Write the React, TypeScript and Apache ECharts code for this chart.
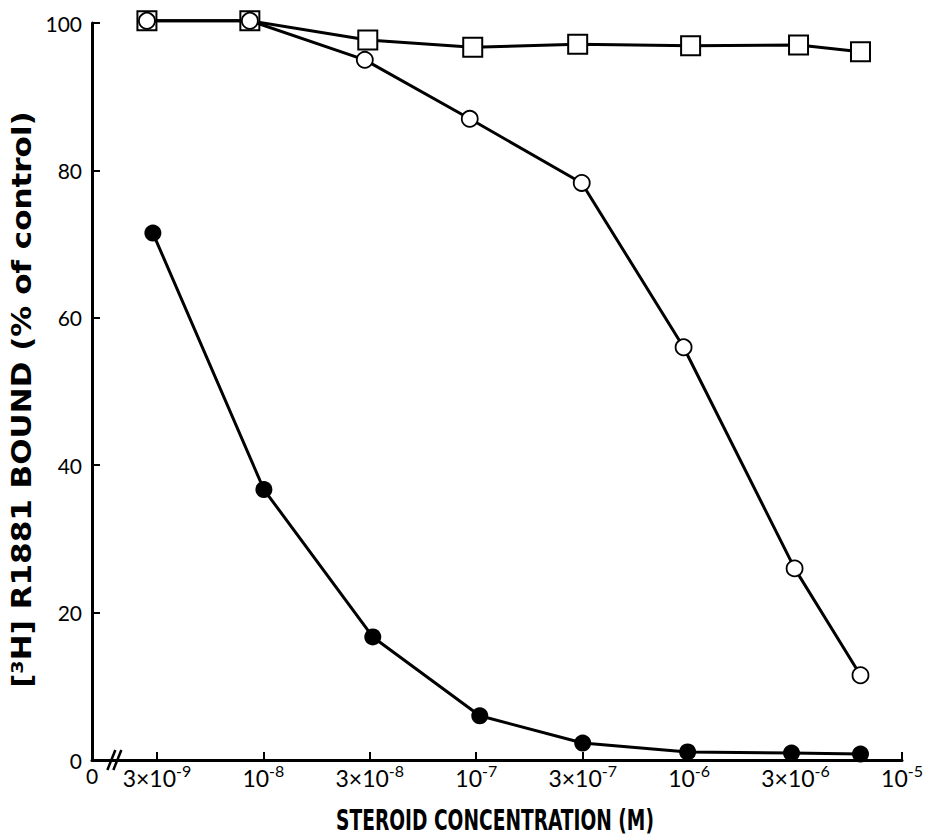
import React, { useEffect, useRef } from "react";
import * as echarts from "echarts";

// Axis positions (equally spaced concentration ticks)
const X_MIN = 0.39;
const X_MAX = 8;
const TICK_POS = [1, 2, 3, 4, 5, 6, 7, 8];
const TICK_LABELS = [
  "{a|3×10}{s|-9}",
  "{a|10}{s|-8}",
  "{a|3×10}{s|-8}",
  "{a|10}{s|-7}",
  "{a|3×10}{s|-7}",
  "{a|10}{s|-6}",
  "{a|3×10}{s|-6}",
  "{a|10}{s|-5}",
];
const ORIGIN_LABEL = "0";
const BREAK_AT = 0.6;

const Y_TICKS = [0, 20, 40, 60, 80, 100];

// Open squares
const SQUARE_X = [0.906, 1.873, 2.981, 3.967, 4.953, 6.014, 7.028, 7.61];
const SQUARE_Y = [100.3, 100.3, 97.7, 96.7, 97.1, 96.9, 97.0, 96.1];
// Open circles
const OPEN_X = [0.906, 1.873, 2.953, 3.939, 4.991, 5.948, 6.991, 7.61];
const OPEN_Y = [100.3, 100.3, 95.0, 87.0, 78.3, 56.0, 26.0, 11.5];
// Filled circles
const FILLED_X = [0.962, 2.005, 3.028, 4.033, 5.0, 5.986, 6.962, 7.61];
const FILLED_Y = [71.5, 36.7, 16.7, 6.0, 2.3, 1.1, 0.95, 0.8];

const X_TITLE = "STEROID CONCENTRATION (M)";
const Y_TITLE_RICH = "[{s|3}H] R1881 BOUND (% of control)";
const Y_TITLE_PLAIN = "[3H] R1881 BOUND (% of control)";

const TITLE_FONT = "'DejaVu Sans Condensed', 'DejaVu Sans', sans-serif";
const TICK_FONT = "Lato, 'DejaVu Sans', sans-serif";

function measure(text: string, font: string): number {
  const c = document.createElement("canvas");
  const ctx = c.getContext("2d");
  if (!ctx) return text.length * 10;
  ctx.font = font;
  return ctx.measureText(text).width;
}

export default function App() {
  const ref = useRef<HTMLDivElement>(null);

  useEffect(() => {
    if (!ref.current) return;
    const chart = echarts.init(ref.current, undefined, { renderer: "svg" });

    const pair = (xs: number[], ys: number[]) => xs.map((x, i) => [x, ys[i]]);

    chart.setOption({
      animation: false,
      backgroundColor: "#fff",
      grid: {
        left: 92,
        right: 23,
        top: 23,
        bottom: 79,
        containLabel: false,
        outerBoundsMode: "none",
      },
      xAxis: {
        type: "value",
        min: X_MIN,
        max: X_MAX,
        splitLine: { show: false },
        axisLine: { show: true, lineStyle: { color: "#000", width: 3 } },
        axisTick: {
          show: true,
          inside: true,
          length: 8,
          lineStyle: { color: "#000", width: 2 },
          customValues: TICK_POS,
        },
        axisLabel: {
          show: true,
          margin: 2,
          color: "#000",
          customValues: [X_MIN, ...TICK_POS],
          formatter: (v: number) => {
            if (Math.abs(v - X_MIN) < 1e-6) return "{o|" + ORIGIN_LABEL + "}";
            const idx = TICK_POS.findIndex((t) => Math.abs(t - v) < 1e-6);
            return idx >= 0 ? TICK_LABELS[idx] : "";
          },
          rich: {
            a: { fontFamily: TICK_FONT, fontSize: 23, color: "#000", lineHeight: 27, verticalAlign: "bottom" },
            s: { fontFamily: TICK_FONT, fontSize: 16, color: "#000", lineHeight: 18, verticalAlign: "top", padding: [0, 0, 9, 0] },
            o: { fontFamily: TICK_FONT, fontSize: 21, color: "#000", lineHeight: 26 },
          },
        },
      },
      yAxis: {
        type: "value",
        min: 0,
        max: 100,
        interval: 20,
        splitLine: { show: false },
        axisLine: { show: true, lineStyle: { color: "#000", width: 3 } },
        axisTick: { show: true, inside: true, length: 8, lineStyle: { color: "#000", width: 2 } },
        axisLabel: {
          margin: 10,
          color: "#000",
          fontFamily: TICK_FONT,
          fontSize: 21,
          formatter: (v: number) => (Y_TICKS.includes(v) ? String(v) : ""),
        },
      },
      series: [
        {
          type: "line",
          name: "squares",
          data: pair(SQUARE_X, SQUARE_Y),
          clip: false,
          symbol: "rect",
          symbolSize: 19,
          lineStyle: { color: "#000", width: 3 },
          itemStyle: { color: "#fff", borderColor: "#000", borderWidth: 2 },
          z: 2,
        },
        {
          type: "line",
          name: "open",
          data: pair(OPEN_X, OPEN_Y),
          clip: false,
          symbol: "circle",
          symbolSize: 16,
          lineStyle: { color: "#000", width: 3 },
          itemStyle: { color: "#fff", borderColor: "#000", borderWidth: 1.8 },
          z: 3,
        },
        {
          type: "line",
          name: "filled",
          data: pair(FILLED_X, FILLED_Y),
          clip: false,
          symbol: "circle",
          symbolSize: 17,
          lineStyle: { color: "#000", width: 3 },
          itemStyle: { color: "#000", borderColor: "#000", borderWidth: 0 },
          z: 4,
        },
      ],
    });

    const bp = chart.convertToPixel({ gridIndex: 0 }, [BREAK_AT, 0]) as number[];
    const topLeft = chart.convertToPixel({ gridIndex: 0 }, [X_MIN, 100]) as number[];
    const right = chart.convertToPixel({ gridIndex: 0 }, [X_MAX, 0]) as number[];

    const xFont = "bold 27px " + TITLE_FONT;
    const yFont = "bold 26px " + TITLE_FONT;
    const xTitleW = 318;
    const yTitleW = 585;
    const xScale = xTitleW / measure(X_TITLE, xFont);
    const yScale = yTitleW / measure(Y_TITLE_PLAIN, yFont);

    const xMid = (topLeft[0] + right[0]) / 2;
    const yMid = (topLeft[1] + bp[1]) / 2;

    chart.setOption({
      graphic: [
        {
          type: "line",
          shape: { x1: bp[0] - 7, y1: bp[1] + 10, x2: bp[0] + 1, y2: bp[1] - 10 },
          style: { stroke: "#000", lineWidth: 2.5 },
          z: 10,
        },
        {
          type: "line",
          shape: { x1: bp[0] - 1, y1: bp[1] + 10, x2: bp[0] + 7, y2: bp[1] - 10 },
          style: { stroke: "#000", lineWidth: 2.5 },
          z: 10,
        },
        {
          type: "text",
          x: xMid - 2,
          y: 820,
          scaleX: xScale,
          scaleY: 1.05,
          style: {
            text: X_TITLE,
            fontFamily: TITLE_FONT,
            fontWeight: "bold",
            fontSize: 27,
            lineHeight: 24,
            fill: "#000",
            align: "center",
            verticalAlign: "middle",
          },
        },
        {
          type: "text",
          x: 22,
          y: yMid + 8,
          rotation: Math.PI / 2,
          scaleX: yScale,
          style: {
            text: Y_TITLE_RICH,
            fontFamily: TITLE_FONT,
            fontWeight: "bold",
            fontSize: 26,
            fill: "#000",
            align: "center",
            verticalAlign: "middle",
            rich: {
              s: { fontFamily: TITLE_FONT, fontWeight: "bold", fontSize: 16, verticalAlign: "top", padding: [0, 0, 10, 0] },
            },
          },
        },
      ],
    });

    return () => chart.dispose();
  }, []);

  return (
    <div
      ref={ref}
      style={{ position: "fixed", left: 0, top: 0, width: 925, height: 839, background: "#fff" }}
    />
  );
}
